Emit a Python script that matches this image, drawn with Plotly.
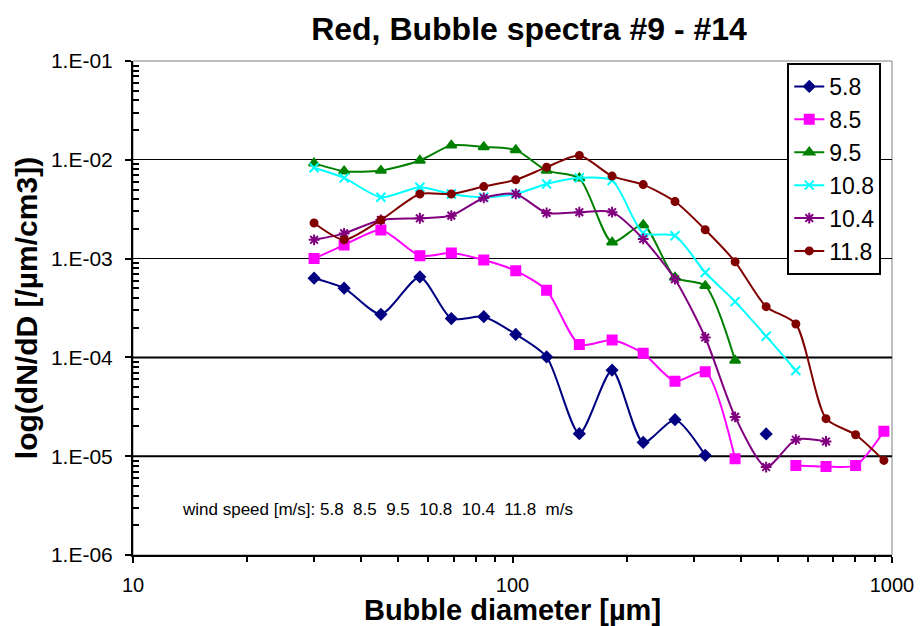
import plotly.graph_objects as go

# Bubble diameters [µm]
diam = [30, 36, 45, 57, 69, 84, 102, 123, 150, 183, 221, 268, 322, 386, 466, 558, 670, 802, 952]

s58 = [6.33e-4, 5.02e-4, 2.73e-4, 6.53e-4, 2.47e-4, 2.58e-4, 1.71e-4, 1.01e-4, 1.69e-5, 7.43e-5,
       1.38e-5, 2.34e-5, 1.02e-5, None, 1.68e-5, None, None, None, None]
s85 = [1.0e-3, 1.37e-3, 1.95e-3, 1.07e-3, 1.14e-3, 9.66e-4, 7.52e-4, 4.79e-4, 1.35e-4, 1.5e-4,
       1.1e-4, 5.75e-5, 7.16e-5, 9.4e-6, None, 8.07e-6, 7.88e-6, 8.07e-6, 1.79e-5]
s95 = [9.25e-3, 7.67e-3, 7.78e-3, 9.84e-3, 1.4e-2, 1.35e-2, 1.26e-2, 7.78e-3, 6.51e-3, 1.46e-3,
       2.19e-3, 6.44e-4, 5.3e-4, 9.3e-5, None, None, None, None, None]
s108 = [8.3e-3, 6.56e-3, 4.18e-3, 5.28e-3, 4.51e-3, 4.18e-3, 4.51e-3, 5.7e-3, 6.56e-3, 6.17e-3,
        1.82e-3, 1.7e-3, 7.24e-4, 3.67e-4, 1.64e-4, 7.38e-5, None, None, None]
s104 = [1.55e-3, 1.8e-3, 2.46e-3, 2.56e-3, 2.72e-3, 4.11e-3, 4.51e-3, 2.9e-3, 2.95e-3, 2.95e-3,
        1.58e-3, 6.19e-4, 1.59e-4, 2.5e-5, 7.76e-6, 1.47e-5, 1.41e-5, None, None]
s118 = [2.29e-3, 1.55e-3, 2.46e-3, 4.51e-3, 4.51e-3, 5.36e-3, 6.27e-3, 8.43e-3, 1.106e-2, 6.84e-3,
        5.61e-3, 3.78e-3, 1.96e-3, 9.29e-4, 3.26e-4, 2.18e-4, 2.4e-5, 1.65e-5, 9.06e-6]

names = ["5.8", "8.5", "9.5", "10.8", "10.4", "11.8"]
series = [s58, s85, s95, s108, s104, s118]
colors = ["#000080", "#FF00FF", "#008000", "#00FFFF", "#800080", "#800000"]
symbols = ["diamond", "square", "triangle-up", "x-thin-open", "asterisk-open", "circle"]
msizes = [8, 9, 9, 9, 9, 7]

ytickvals = [1e-6, 1e-5, 1e-4, 1e-3, 1e-2, 1e-1]
yticktext = ["1.E-06", "1.E-05", "1.E-04", "1.E-03", "1.E-02", "1.E-01"]
xtickvals = [10, 100, 1000]
xticktext = ["10", "100", "1000"]

# minor tick positions (2..9 within each decade)
yminor = [k * 10.0 ** e for e in range(-6, -1) for k in range(2, 10)]
xminor = [k * 10.0 ** e for e in range(1, 3) for k in range(2, 10)]

fig = go.Figure()
for nm, ys, c, sym, ms in zip(names, series, colors, symbols, msizes):
    fig.add_trace(go.Scatter(
        x=diam, y=ys, name=nm, mode="lines+markers",
        line=dict(color=c, width=2, shape="spline", smoothing=0.7),
        marker=dict(symbol=sym, size=ms, color=c, line=dict(color=c, width=2)),
        connectgaps=False,
    ))

fig.update_layout(
    width=921, height=626,
    margin=dict(l=133, r=29, t=61, b=71, autoexpand=False),
    paper_bgcolor="white", plot_bgcolor="white",
    font=dict(family="Arial, Liberation Sans, sans-serif", color="black"),
    title=dict(text="<b>Red, Bubble spectra #9 - #14</b>", x=529 / 921, xanchor="center",
               y=1 - 29 / 626, yanchor="middle", font=dict(size=32, color="black")),
    legend=dict(x=0.862, y=0.996, xanchor="left", yanchor="top",
                bgcolor="white", bordercolor="black", borderwidth=2,
                font=dict(size=23, color="black"), itemwidth=30),
    shapes=[
        dict(type="rect", xref="paper", yref="paper", x0=0, x1=1, y0=0, y1=1,
             line=dict(color="#808080", width=1), layer="below"),
        dict(type="line", xref="paper", yref="y", x0=0, x1=1, y0=1e-4, y1=1e-4,
             line=dict(color="black", width=2), layer="below"),
        dict(type="line", xref="paper", yref="y", x0=0, x1=1, y0=1e-5, y1=1e-5,
             line=dict(color="black", width=2), layer="below"),
    ],
    annotations=[
        dict(text="wind speed [m/s]: 5.8\u00a0\u00a08.5\u00a0\u00a09.5\u00a0\u00a010.8\u00a0\u00a010.4\u00a0\u00a011.8\u00a0\u00a0m/s",
             xref="paper", yref="paper", x=(180 - 133) / 759, y=(555 - 509) / 494,
             xanchor="left", yanchor="middle", showarrow=False,
             font=dict(size=17, color="black")),
    ],
)

fig.update_xaxes(
    type="log", range=[1, 3],
    tickvals=xtickvals, ticktext=xticktext,
    ticks="outside", ticklen=6, tickwidth=2, tickcolor="black",
    showline=True, linecolor="black", linewidth=2,
    showgrid=False, zeroline=False,
    tickfont=dict(size=20, color="black"), ticklabelstandoff=5,
    minor=dict(tickmode="array", tickvals=xminor, ticks="outside", ticklen=5,
               tickwidth=2, tickcolor="black", showgrid=False),
    title=dict(text="<b>Bubble diameter [µm]</b>", font=dict(size=29, color="black"), standoff=5),
)
fig.update_yaxes(
    type="log", range=[-6, -1],
    tickvals=ytickvals, ticktext=yticktext,
    ticks="outside", ticklen=6, tickwidth=2, tickcolor="black",
    showline=True, linecolor="black", linewidth=2,
    showgrid=True, gridcolor="black", gridwidth=1, zeroline=False,
    tickfont=dict(size=21, color="black"), ticklabelstandoff=8,
    minor=dict(tickmode="array", tickvals=yminor, ticks="inside", ticklen=6,
               tickwidth=2, tickcolor="black", showgrid=False),
    title=dict(text="<b>log(dN/dD [/µm/cm3])</b>", font=dict(size=30, color="black"), standoff=4),
)

fig.write_html("out.html")
